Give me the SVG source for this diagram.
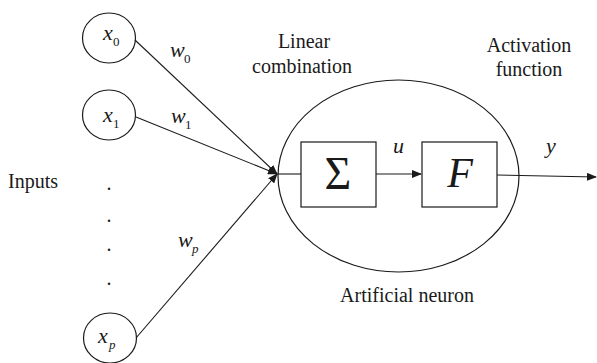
<svg xmlns="http://www.w3.org/2000/svg" width="597" height="363" viewBox="0 0 597 363">
<style>
.sh{fill:none;stroke:#1a1a1a;stroke-width:1.2}
.ln{fill:none;stroke:#1a1a1a;stroke-width:1.1}
.t{font-size:20px}
.v{font-style:italic;font-size:22px}
.s{font-size:13px}
.si{font-style:italic;font-size:13px}
</style>
<defs>
<marker id="ah" markerWidth="10" markerHeight="8" refX="9" refY="4" orient="auto" markerUnits="userSpaceOnUse">
<path d="M0,0 L10,4 L0,8 Z" fill="#1a1a1a"/>
</marker>
</defs>
<rect width="597" height="363" fill="#fff"/>
<g font-family="Liberation Serif, DejaVu Serif, serif" fill="#1a1a1a">
<g id="connectors">
<line class="ln" x1="135" y1="40" x2="277" y2="174" marker-end="url(#ah)"/>
<line class="ln" x1="136" y1="117" x2="277" y2="174" marker-end="url(#ah)"/>
<line class="ln" x1="136" y1="338" x2="277" y2="174" marker-end="url(#ah)"/>
<line class="ln" x1="278" y1="174" x2="301" y2="174"/>
<line class="ln" x1="376" y1="174" x2="421" y2="174" marker-end="url(#ah)"/>
<line class="ln" x1="497" y1="175" x2="596" y2="177" marker-end="url(#ah)"/>
<text class="v" x="170" y="57">w</text><text class="s" x="184" y="63">0</text>
<text class="v" x="171" y="123">w</text><text class="s" x="185" y="129">1</text>
<text class="v" x="178" y="247">w</text><text class="si" x="192" y="253">p</text>
<text class="v" x="393" y="153">u</text>
<text class="v" x="546" y="153">y</text>
</g>
<g id="x0">
<ellipse class="sh" cx="109" cy="38" rx="26.5" ry="25"/>
<text class="v" x="103" y="40">x</text><text class="s" x="113" y="46">0</text>
</g>
<g id="x1">
<ellipse class="sh" cx="109" cy="115" rx="26.5" ry="25"/>
<text class="v" x="103" y="122">x</text><text class="s" x="113" y="128">1</text>
</g>
<g id="xp">
<ellipse class="sh" cx="110" cy="338" rx="26.5" ry="25"/>
<text class="v" x="98" y="343">x</text><text class="si" x="109" y="349">p</text>
</g>
<g id="inputs">
<text class="t" x="8" y="188">Inputs</text>
<text class="t" x="109" y="190" text-anchor="middle">.</text>
<text class="t" x="109" y="222" text-anchor="middle">.</text>
<text class="t" x="109" y="251" text-anchor="middle">.</text>
<text class="t" x="109" y="285" text-anchor="middle">.</text>
</g>
<g id="neuron">
<ellipse class="sh" cx="398.5" cy="176" rx="120.5" ry="96"/>
<text class="t" x="407" y="302" text-anchor="middle">Artificial neuron</text>
</g>
<g id="sum">
<rect class="sh" x="301" y="142" width="75" height="65"/>
<text x="338" y="189" text-anchor="middle" font-size="46">Σ</text>
</g>
<g id="activation">
<rect class="sh" x="422" y="142" width="75" height="65"/>
<text x="460" y="187" text-anchor="middle" font-style="italic" font-size="42">F</text>
</g>
<g id="labels">
<text class="t" x="304" y="48" text-anchor="middle">Linear</text>
<text class="t" x="302" y="73" text-anchor="middle">combination</text>
<text class="t" x="529" y="52" text-anchor="middle">Activation</text>
<text class="t" x="529" y="76" text-anchor="middle">function</text>
</g>
</g>
</svg>
